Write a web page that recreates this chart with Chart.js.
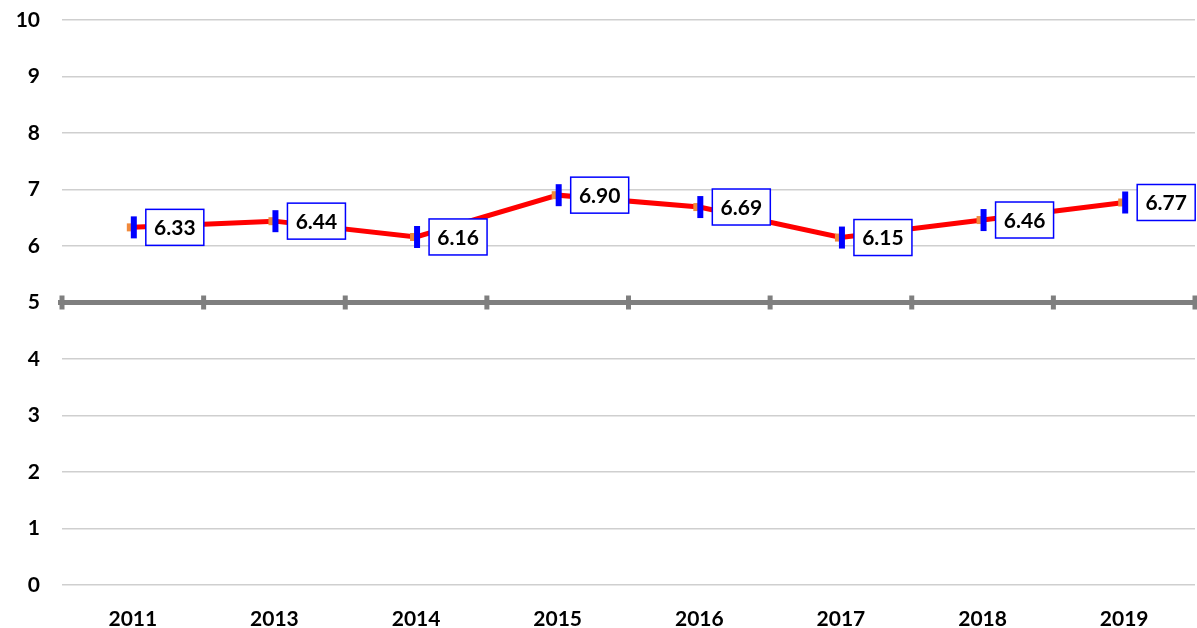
<!DOCTYPE html>
<html lang="en">
  <head>
    <meta charset="UTF-8" />
    <title>Line chart</title>
    <style>
      html, body { margin: 0; padding: 0; background: #fff; overflow: hidden; }
      #wrap { width: 1197px; height: 628px; }
      canvas { display: block; }
    </style>
  </head>
  <body>
    <div id="wrap"><canvas id="myChart" width="1197" height="628"></canvas></div>

    <script src="https://cdn.jsdelivr.net/npm/chart.js@4.4.0/dist/chart.umd.min.js"></script>
    <script>
      const years = ["2011", "2013", "2014", "2015", "2016", "2017", "2018", "2019"];
      const values = [6.33, 6.44, 6.16, 6.90, 6.69, 6.15, 6.46, 6.77];
      const yMin = 0;
      const yMax = 10;
      const midValue = 5;

      const FONT = "Lato, 'Open Sans', sans-serif";

      // marker: small orange square with a blue bar over it
      const marker = document.createElement("canvas");
      marker.width = 18;
      marker.height = 24;
      const mc = marker.getContext("2d");
      mc.fillStyle = "#f08a3c";
      mc.fillRect(3, 8, 8, 8);
      mc.fillStyle = "#0000ff";
      mc.fillRect(7, 1, 6, 22);

      const midLine = {
        id: "midLine",
        beforeDatasetsDraw(chart) {
          const { ctx, scales } = chart;
          const x = scales.x, y = scales.y;
          const py = y.getPixelForValue(midValue);
          const step = x.getPixelForValue(1) - x.getPixelForValue(0);
          ctx.save();
          ctx.strokeStyle = "#7f7f7f";
          ctx.lineWidth = 5;
          ctx.beginPath();
          ctx.moveTo(chart.chartArea.left - 4, py);
          ctx.lineTo(chart.chartArea.right + 2, py);
          ctx.stroke();
          for (let i = 0; i <= years.length; i++) {
            const px = x.getPixelForValue(0) - step / 2 + i * step;
            ctx.beginPath();
            ctx.moveTo(px, py - 7);
            ctx.lineTo(px, py + 7);
            ctx.stroke();
          }
          ctx.restore();
        },
      };

      const valueBoxes = {
        id: "valueBoxes",
        afterDatasetsDraw(chart) {
          const { ctx } = chart;
          const meta = chart.getDatasetMeta(0);
          ctx.save();
          ctx.font = "bold 21px " + FONT;
          ctx.textAlign = "center";
          ctx.textBaseline = "middle";
          meta.data.forEach((pt, i) => {
            const w = 58, h = 36;
            const bx = pt.x + 13, by = pt.y - h / 2;
            ctx.fillStyle = "#fff";
            ctx.fillRect(bx, by, w, h);
            ctx.strokeStyle = "#0000ff";
            ctx.lineWidth = 1.5;
            ctx.strokeRect(bx, by, w, h);
            ctx.fillStyle = "#000";
            ctx.fillText(values[i].toFixed(2), bx + w / 2, pt.y + 1);
          });
          ctx.restore();
        },
      };

      const ctx = document.getElementById("myChart").getContext("2d");
      const myChart = new Chart(ctx, {
        type: "line",
        data: {
          labels: years,
          datasets: [
            {
              data: values,
              borderColor: "#ff0000",
              borderWidth: 5,
              pointStyle: marker,
              pointRadius: 10,
              tension: 0,
            },
          ],
        },
        options: {
          responsive: false,
          animation: false,
          layout: { autoPadding: false, padding: { top: 20, right: 2, left: 0, bottom: 0 } },
          plugins: {
            legend: { display: false },
            tooltip: { enabled: false },
          },
          scales: {
            x: {
              offset: true,
              grid: { display: false, drawTicks: true, tickLength: 22, tickColor: "rgba(0,0,0,0)" },
              border: { display: false },
              ticks: {
                color: "#000",
                padding: 0,
                font: { family: FONT, size: 21, weight: "bold" },
              },
              afterFit(scale) {
                scale.height = 43;
                scale.paddingLeft = 0;
                scale.paddingRight = 0;
              },
            },
            y: {
              min: yMin,
              max: yMax,
              ticks: {
                stepSize: 1,
                color: "#000",
                padding: 0,
                font: { family: FONT, size: 21, weight: "bold" },
              },
              grid: {
                drawTicks: true,
                tickLength: 22,
                tickColor: "rgba(0,0,0,0)",
                lineWidth: 1.5,
                color: (c) => (c.tick && c.tick.value === midValue ? "rgba(0,0,0,0)" : "#cfcfcf"),
              },
              border: { display: false },
              afterFit(scale) { scale.width = 62; },
            },
          },
        },
        plugins: [midLine, valueBoxes],
      });
    </script>
  </body>
</html>
